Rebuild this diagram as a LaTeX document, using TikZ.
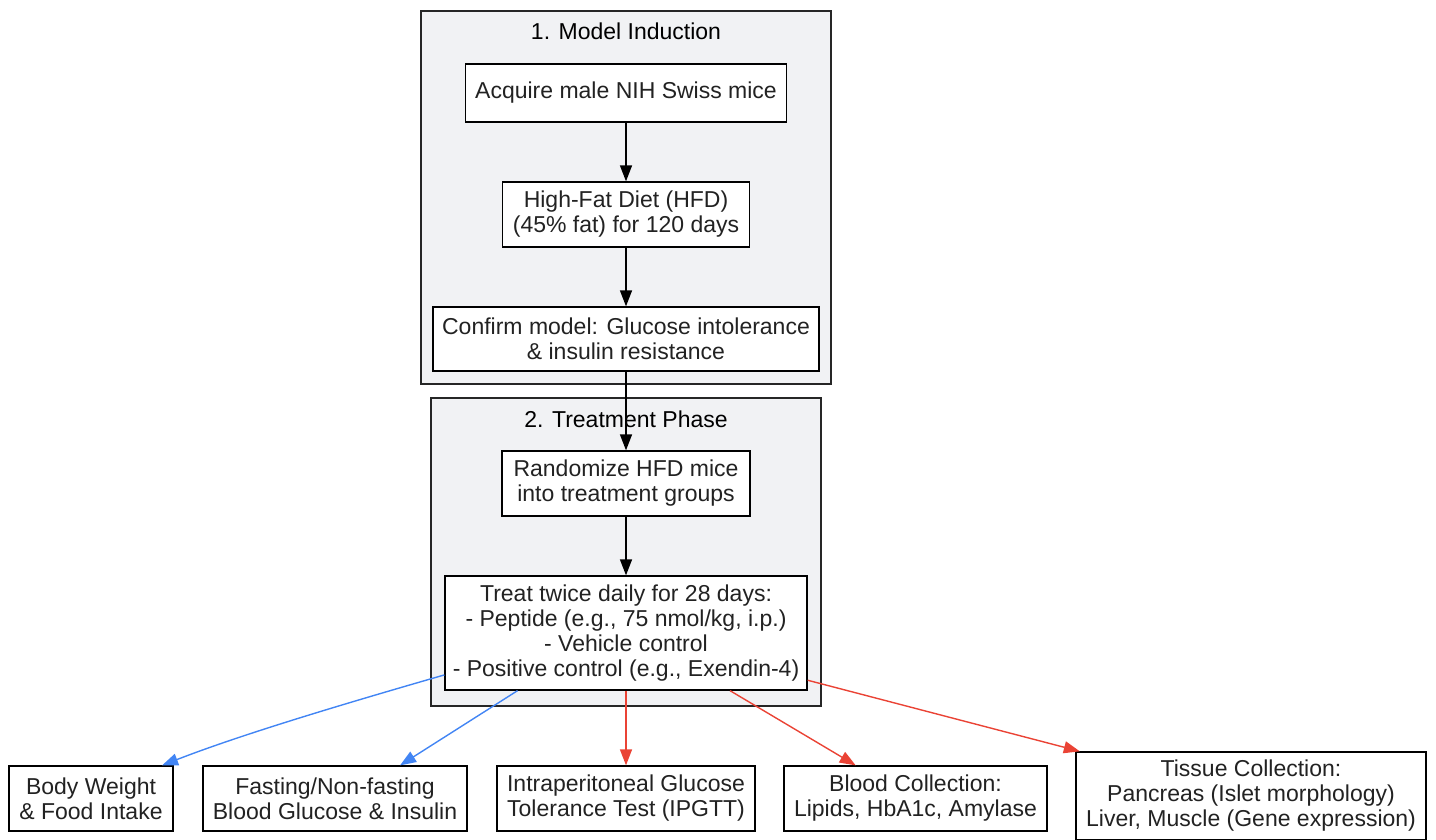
\documentclass[tikz,border=0pt]{standalone}
\usepackage{fontspec}
\setmainfont{Liberation Sans}
\usetikzlibrary{arrows.meta}
\definecolor{clfill}{HTML}{F1F2F4}
\definecolor{txt}{HTML}{222222}
\definecolor{gblue}{HTML}{4285F4}
\definecolor{gred}{HTML}{EA4335}
\tikzset{
  box/.style={draw=black, line width=1.3pt, fill=white, align=center, inner sep=0pt, text=txt,
    font=\fontsize{23}{25}\selectfont},
  cluster/.style={draw=black!85, line width=1.3pt, fill=clfill},
  ctitle/.style={text=black, font=\fontsize{23}{25}\selectfont, inner sep=0pt},
  arr/.style={line width=1.4pt, -{Triangle[length=16pt,width=12pt]}},
}
\begin{document}
\begin{tikzpicture}[x=1pt,y=-1pt]
\useasboundingbox (0,0) rectangle (1436,840);
% clusters
\node[cluster, minimum width=410pt, minimum height=373pt, inner sep=0pt] (c1) at (626,197.5) {};
\node[ctitle] (t1) at (626,31) {1. Model Induction};
\node[cluster, minimum width=390pt, minimum height=308pt, inner sep=0pt] (c2) at (626,552) {};
\node[ctitle] (t2) at (626,419) {2. Treatment Phase};
% nodes
\node[box, minimum width=321pt, minimum height=58pt] (A) at (626,93) {Acquire male NIH Swiss mice};
\node[box, minimum width=247pt, minimum height=65pt] (B) at (626,214.5) {High-Fat Diet (HFD)\\(45\% fat) for 120 days};
\node[box, minimum width=386pt, minimum height=64pt] (C) at (626,339) {Confirm model: Glucose intolerance\\\& insulin resistance};
\node[box, minimum width=248pt, minimum height=65pt] (D) at (626,483.5) {Randomize HFD mice\\into treatment groups};
\node[box, minimum width=362pt, minimum height=114pt] (E) at (626,633) {Treat twice daily for 28 days:\\- Peptide (e.g., 75 nmol/kg, i.p.)\\- Vehicle control\\- Positive control (e.g., Exendin-4)};
\node[box, minimum width=164pt, minimum height=65pt] (F1) at (91,798.5) {Body Weight\\\& Food Intake};
\node[box, minimum width=264pt, minimum height=65pt] (F2) at (335,798.5) {Fasting/Non-fasting\\Blood Glucose \& Insulin};
\node[box, minimum width=258pt, minimum height=65pt] (F3) at (626,798.5) {Intraperitoneal Glucose\\Tolerance Test (IPGTT)};
\node[box, minimum width=263pt, minimum height=65pt] (F4) at (915.5,798.5) {Blood Collection:\\Lipids, HbA1c, Amylase};
\node[box, minimum width=350pt, minimum height=88pt] (F5) at (1251,796) {Tissue Collection:\\Pancreas (Islet morphology)\\Liver, Muscle (Gene expression)};
% edges
\draw[arr] (A) -- (B);
\draw[arr] (B) -- (C);
\draw[arr] (C) -- (D);
\draw[arr] (D) -- (E);
\draw[arr, gblue] (E.193.7) .. controls (340,705) and (240,735) .. (F1.25);
\draw[arr, gblue] (E.208.7) -- (F2.27);
\draw[arr, gred] (E) -- (F3);
\draw[arr, gred] (E.331.3) -- (F4.151);
\draw[arr, gred] (E) -- (F5);
\end{tikzpicture}
\end{document}
